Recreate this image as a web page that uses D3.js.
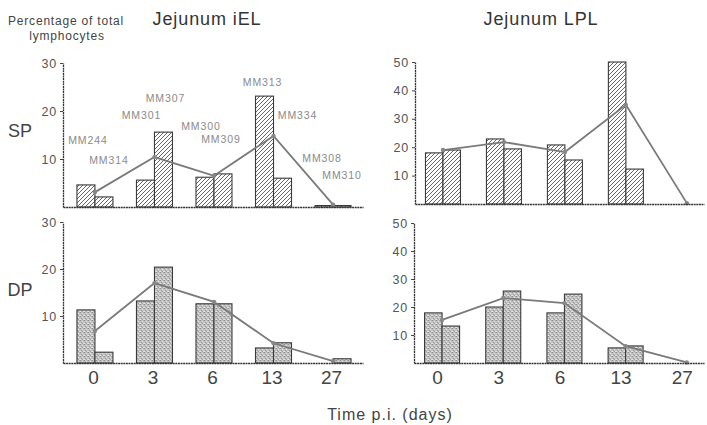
<!DOCTYPE html>
<html><head><meta charset="utf-8">
<script src="https://cdn.jsdelivr.net/npm/d3@7"></script>
<style>body{margin:0;background:#fff} svg{display:block}</style>
</head><body><svg id="c" width="707" height="425"></svg>
<script>
// ---------- data ----------
const categories = ["0", "3", "6", "13", "27"];
const ielSpA    = [4.6, 5.6, 6.2, 23.1, 0.3];
const ielSpB    = [2.1, 15.6, 6.9, 6.0, 0.3];
const ielSpMean = [3.1, 10.4, 6.5, 14.8, 0.5];
const ielDpA    = [11.3, 13.2, 12.6, 3.2, 0];
const ielDpB    = [2.3, 20.4, 12.6, 4.3, 0.9];
const ielDpMean = [6.8, 17.0, 13.0, 4.2, 0.4];
const lplSpA    = [18.0, 22.9, 20.8, 50.0, 0];
const lplSpB    = [19.0, 19.4, 15.5, 12.3, 0];
const lplSpMean = [19.0, 21.8, 18.3, 34.9, 0.3];
const lplDpA    = [17.9, 20.0, 17.9, 5.4, 0];
const lplDpB    = [13.2, 25.7, 24.6, 6.1, 0];
const lplDpMean = [15.4, 23.2, 21.4, 6.0, 0.2];
const ielTicks = [10, 20, 30];
const lplTicks = [10, 20, 30, 40, 50];
const mouseIds = ["MM244", "MM314", "MM301", "MM307", "MM300", "MM309", "MM313", "MM334", "MM308", "MM310"];
const mouseCat = ["0", "0", "3", "3", "6", "6", "13", "13", "27", "27"];
const mouseY   = [13.8, 9.8, 19.1, 22.6, 16.9, 14.1, 25.9, 19.1, 10.2, 6.6];

// ---------- layout ----------
const FONT = "'Liberation Sans', Arial, Helvetica, sans-serif";
const labelDx = [-7, 14, -13, 11, -13, 7, -11, 24, -11, 9];
const svg = d3.select("#c");
const defs = svg.append("defs");

const hatch = defs.append("pattern").attr("id", "hatch").attr("patternUnits", "userSpaceOnUse")
  .attr("width", 4).attr("height", 4);
hatch.append("rect").attr("width", 4).attr("height", 4).attr("fill", "#fff");
hatch.append("path").attr("d", "M-1,1 l2,-2 M0,4 l4,-4 M3,5 l2,-2")
  .attr("stroke", "#555").attr("stroke-width", 0.9);

const stip = defs.append("pattern").attr("id", "stip").attr("patternUnits", "userSpaceOnUse")
  .attr("width", 4).attr("height", 4);
stip.append("rect").attr("width", 4).attr("height", 4).attr("fill", "#c2c2c2");
[[0,0,"#8e8e8e"],[2,1,"#e2e2e2"],[1,2,"#9a9a9a"],[3,3,"#dedede"],[3,0,"#ababab"],[0,3,"#e6e6e6"],[2,3,"#a0a0a0"]]
  .forEach(([x,y,c]) => stip.append("rect").attr("x", x).attr("y", y).attr("width", 1).attr("height", 1).attr("fill", c));

const panels = [
  { x0: 63, x1: 363, yTop: 63, yBot: 207, max: 30, ticks: ielTicks, A: ielSpA, B: ielSpB, M: ielSpMean,
    fill: "url(#hatch)", xLabels: false, pad: 0.52, align: 0.516, bw: 18, labDx: -2 },
  { x0: 63, x1: 363, yTop: 222, yBot: 363, max: 30, ticks: ielTicks, A: ielDpA, B: ielDpB, M: ielDpMean,
    fill: "url(#stip)", xLabels: true, pad: 0.52, align: 0.516, bw: 18, labDx: -2 },
  { x0: 415, x1: 704, yTop: 62, yBot: 204, max: 50, ticks: lplTicks, A: lplSpA, B: lplSpB, M: lplSpMean,
    fill: "url(#hatch)", xLabels: false, pad: 0.37, align: 0.62, bw: 17.5, labDx: -5 },
  { x0: 414, x1: 704, yTop: 223, yBot: 363, max: 50, ticks: lplTicks, A: lplDpA, B: lplDpB, M: lplDpMean,
    fill: "url(#stip)", xLabels: true, pad: 0.37, align: 0.62, bw: 17.5, labDx: -5 }
];

panels.forEach((p, pi) => {
  const x = d3.scalePoint().domain(categories).range([p.x0, p.x1]).padding(p.pad).align(p.align);
  const y = d3.scaleLinear().domain([0, p.max]).range([p.yBot, p.yTop]);
  p.x = x; p.y = y;
  const g = svg.append("g");

  // bars
  const rows = categories.map((c, i) => ({ c, a: p.A[i], b: p.B[i], m: p.M[i] }));
  g.selectAll(".ba").data(rows).join("rect")
    .attr("x", d => x(d.c) - p.bw).attr("width", p.bw)
    .attr("y", d => y(d.a)).attr("height", d => y(0) - y(d.a))
    .attr("fill", p.fill).attr("stroke", "#3a3a3a").attr("stroke-width", 1.1)
    .attr("display", d => d.a > 0 ? null : "none");
  g.selectAll(".bb").data(rows).join("rect")
    .attr("x", d => x(d.c)).attr("width", p.bw)
    .attr("y", d => y(d.b)).attr("height", d => y(0) - y(d.b))
    .attr("fill", p.fill).attr("stroke", "#3a3a3a").attr("stroke-width", 1.1)
    .attr("display", d => d.b > 0 ? null : "none");

  // mean line
  const line = d3.line().x(d => x(d.c)).y(d => y(d.m));
  g.append("path").datum(rows).attr("d", line).attr("fill", "none")
    .attr("stroke", "#7a7a7a").attr("stroke-width", 1.8);
  g.selectAll(".pt").data(rows).join("circle")
    .attr("cx", d => x(d.c)).attr("cy", d => y(d.m)).attr("r", 2.2).attr("fill", "#888");

  // y axis
  const ya = g.append("g").attr("transform", `translate(${p.x0},0)`)
    .call(d3.axisLeft(y).tickValues(p.ticks).tickSize(3).tickSizeOuter(0).tickPadding(3));
  ya.select(".domain").attr("stroke", "#333").attr("stroke-width", 1.3).attr("stroke-dasharray", "2,0.6");
  ya.selectAll(".tick line").attr("stroke", "#444");
  ya.selectAll(".tick text").attr("font-family", FONT).attr("font-size", 12.5)
    .attr("fill", "#555").attr("letter-spacing", 0.8);

  // x axis
  const xa = g.append("g").attr("transform", `translate(0,${p.yBot})`)
    .call(d3.axisBottom(x).tickSize(0).tickSizeOuter(0).tickPadding(8)
      .tickFormat(p.xLabels ? (d => d) : () => ""));
  xa.select(".domain").attr("stroke", "#333").attr("stroke-width", 1.3).attr("stroke-dasharray", "2,0.6");
  xa.selectAll(".tick text").attr("font-family", FONT).attr("font-size", 19)
    .attr("fill", "#444").attr("dx", p.labDx);
});

// mouse id labels (top-left panel)
const pTL = panels[0];
svg.append("g").selectAll("text").data(mouseIds).join("text")
  .attr("x", (d, i) => pTL.x(mouseCat[i]) + labelDx[i])
  .attr("y", (d, i) => pTL.y(mouseY[i]))
  .attr("dy", "0.35em").attr("text-anchor", "middle")
  .attr("font-family", FONT).attr("font-size", 10.5).attr("letter-spacing", 0.9)
  .attr("fill", "#8a8a8a").text(d => d);

// titles and labels
const txt = (s, x, y, size, opts = {}) => svg.append("text").attr("x", x).attr("y", y)
  .attr("font-family", FONT).attr("font-size", size).attr("fill", opts.fill || "#333")
  .attr("text-anchor", opts.anchor || "middle").attr("letter-spacing", opts.ls || 0).text(s);
txt("Jejunum iEL", 207, 25, 18, { ls: 0.9 });
txt("Jejunum LPL", 541, 25, 18, { ls: 0.9 });
txt("Percentage of total", 66, 25, 12, { ls: 0.8, fill: "#444" });
txt("lymphocytes", 67, 40, 12, { ls: 0.8, fill: "#444" });
txt("SP", 20, 137, 18, { fill: "#444" });
txt("DP", 20, 296, 18, { fill: "#444" });
txt("Time p.i. (days)", 390, 420, 16, { ls: 1, fill: "#444" });
</script></body></html>
